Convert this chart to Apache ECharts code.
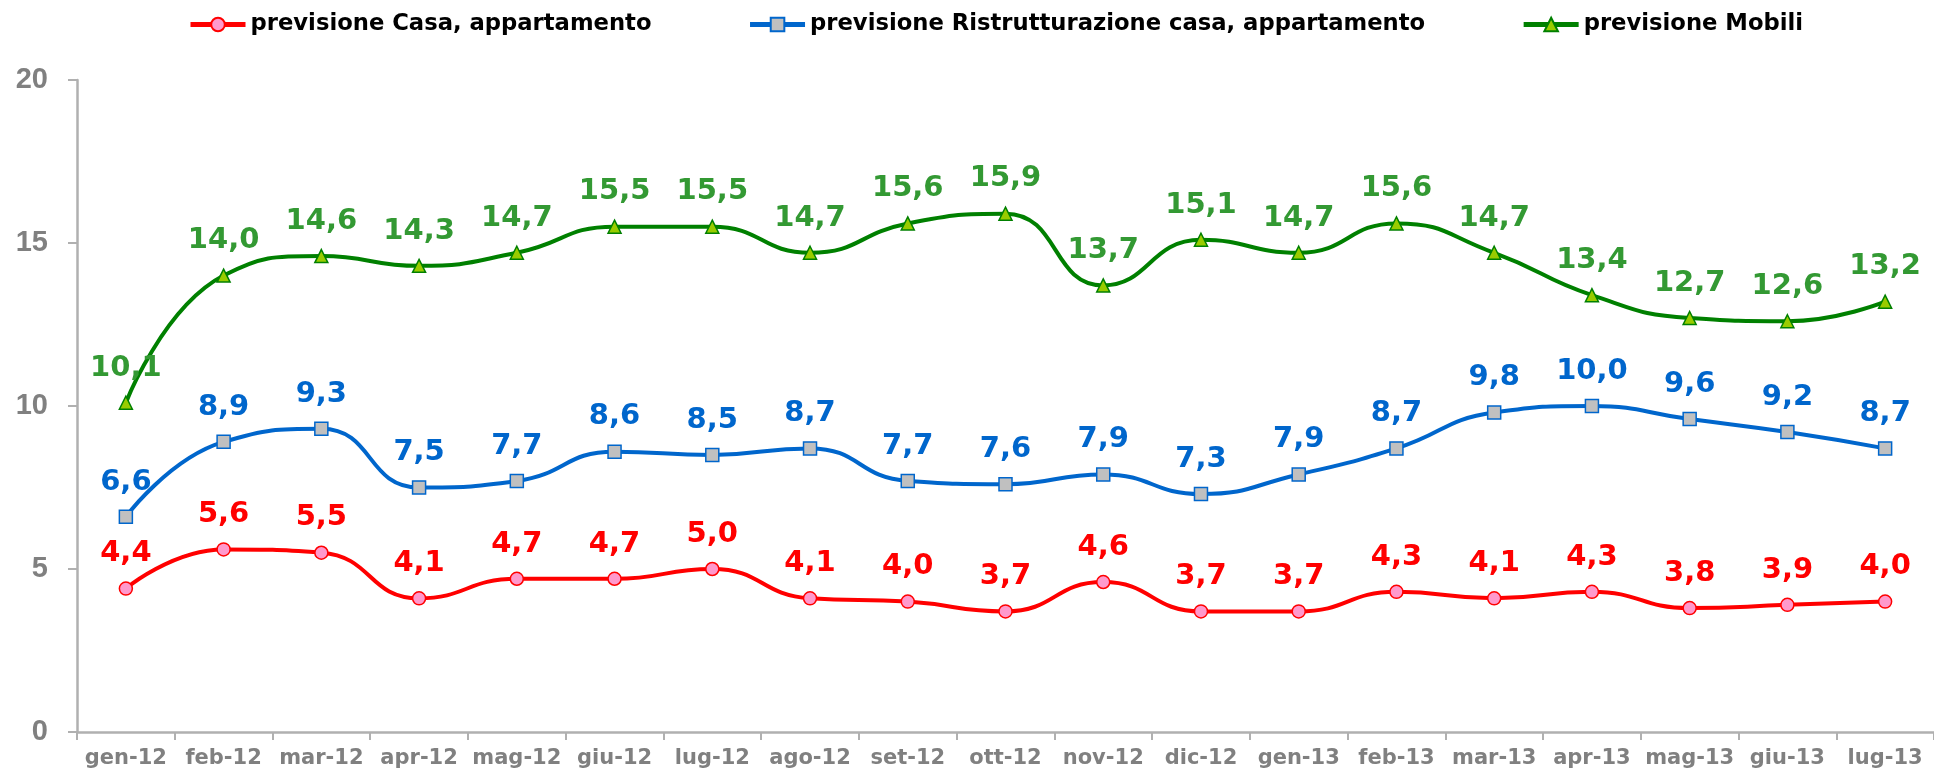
<!DOCTYPE html>
<html>
<head>
<meta charset="utf-8">
<title>previsione</title>
<script src="https://cdn.jsdelivr.net/npm/echarts@6.0.0/dist/echarts.min.js"></script>
<style>
html, body { margin: 0; padding: 0; background: #ffffff; }
#chart { width: 1934px; height: 779px; }
</style>
</head>
<body>
<div id="chart"></div>
<script>
// dati del grafico
var mesi = [ 'gen-12', 'feb-12', 'mar-12', 'apr-12', 'mag-12', 'giu-12', 'lug-12',
		'ago-12', 'set-12', 'ott-12', 'nov-12', 'dic-12', 'gen-13', 'feb-13',
		'mar-13', 'apr-13', 'mag-13', 'giu-13', 'lug-13' ];
var casa = [ 4.4, 5.6, 5.5, 4.1, 4.7, 4.7, 5.0, 4.1, 4.0, 3.7, 4.6, 3.7, 3.7,
		4.3, 4.1, 4.3, 3.8, 3.9, 4.0 ];
var ristrutturazione = [ 6.6, 8.9, 9.3, 7.5, 7.7, 8.6, 8.5, 8.7, 7.7, 7.6,
		7.9, 7.3, 7.9, 8.7, 9.8, 10.0, 9.6, 9.2, 8.7 ];
var mobili = [ 10.1, 14.0, 14.6, 14.3, 14.7, 15.5, 15.5, 14.7, 15.6, 15.9,
		13.7, 15.1, 14.7, 15.6, 14.7, 13.4, 12.7, 12.6, 13.2 ];
var nomiSerie = [ 'previsione Casa, appartamento',
		'previsione Ristrutturazione casa, appartamento', 'previsione Mobili' ];

function virgola(p) { // 4.4 -> 4,4
	return p.value.toFixed(1).replace('.', ',');
}

function serie(nome, dati, colore, coloreLabel, simbolo, riempimento, size) {
	return {
		name : nome,
		type : 'line',
		smooth : 0.5,
		data : dati,
		symbol : simbolo,
		symbolSize : size,
		lineStyle : {
			color : colore,
			width : 4
		},
		itemStyle : {
			color : riempimento,
			borderColor : colore,
			borderWidth : 1.5
		},
		label : {
			show : true,
			position : 'top',
			distance : 13,
			formatter : virgola,
			color : coloreLabel,
			fontFamily : 'DejaVu Sans',
			fontWeight : 'bold',
			fontSize : 29
		},
		emphasis : {
			disabled : true
		}
	};
}

var chart = echarts.init(document.getElementById('chart'));
chart.setOption({
	animation : false,
	legend : {
		data : nomiSerie,
		left : 183,
		top : 8,
		itemWidth : 55,
		itemHeight : 17,
		itemGap : 96,
		lineStyle : {
			width : 5
		},
		textStyle : {
			color : '#000000',
			fontFamily : 'DejaVu Sans',
			fontWeight : 'bold',
			fontSize : 22.7
		}
	},
	grid : {
		left : 77,
		top : 80,
		width : 1864,
		bottom : 47,
		containLabel : false
	},
	xAxis : {
		type : 'category',
		data : mesi,
		boundaryGap : true,
		axisLine : {
			lineStyle : {
				color : '#b0b0b0',
				width : 2.5
			}
		},
		axisTick : {
			show : true,
			length : 8,
			lineStyle : {
				color : '#b0b0b0',
				width : 2
			}
		},
		axisLabel : {
			interval : 0,
			margin : 16,
			color : '#808080',
			fontFamily : 'DejaVu Sans',
			fontWeight : 'bold',
			fontSize : 21
		},
		splitLine : {
			show : false
		}
	},
	yAxis : {
		type : 'value',
		min : 0,
		max : 20,
		interval : 5,
		axisLine : {
			show : true,
			lineStyle : {
				color : '#b0b0b0',
				width : 2.5
			}
		},
		axisTick : {
			show : true,
			length : 9,
			lineStyle : {
				color : '#b0b0b0',
				width : 2
			}
		},
		axisLabel : {
			margin : 29,
			color : '#808080',
			fontFamily : 'Liberation Sans',
			fontWeight : 'bold',
			fontSize : 29
		},
		splitLine : {
			show : false
		}
	},
	series : [
			serie(nomiSerie[0], casa, '#ff0000', '#ff0000', 'circle', '#ff99cc', 13),
			serie(nomiSerie[1], ristrutturazione, '#0066cc', '#0066cc', 'rect', '#c0c0c0', 13),
			serie(nomiSerie[2], mobili, '#008000', '#339933', 'triangle', '#99cc00', 13) ]
});
</script>
</body>
</html>
